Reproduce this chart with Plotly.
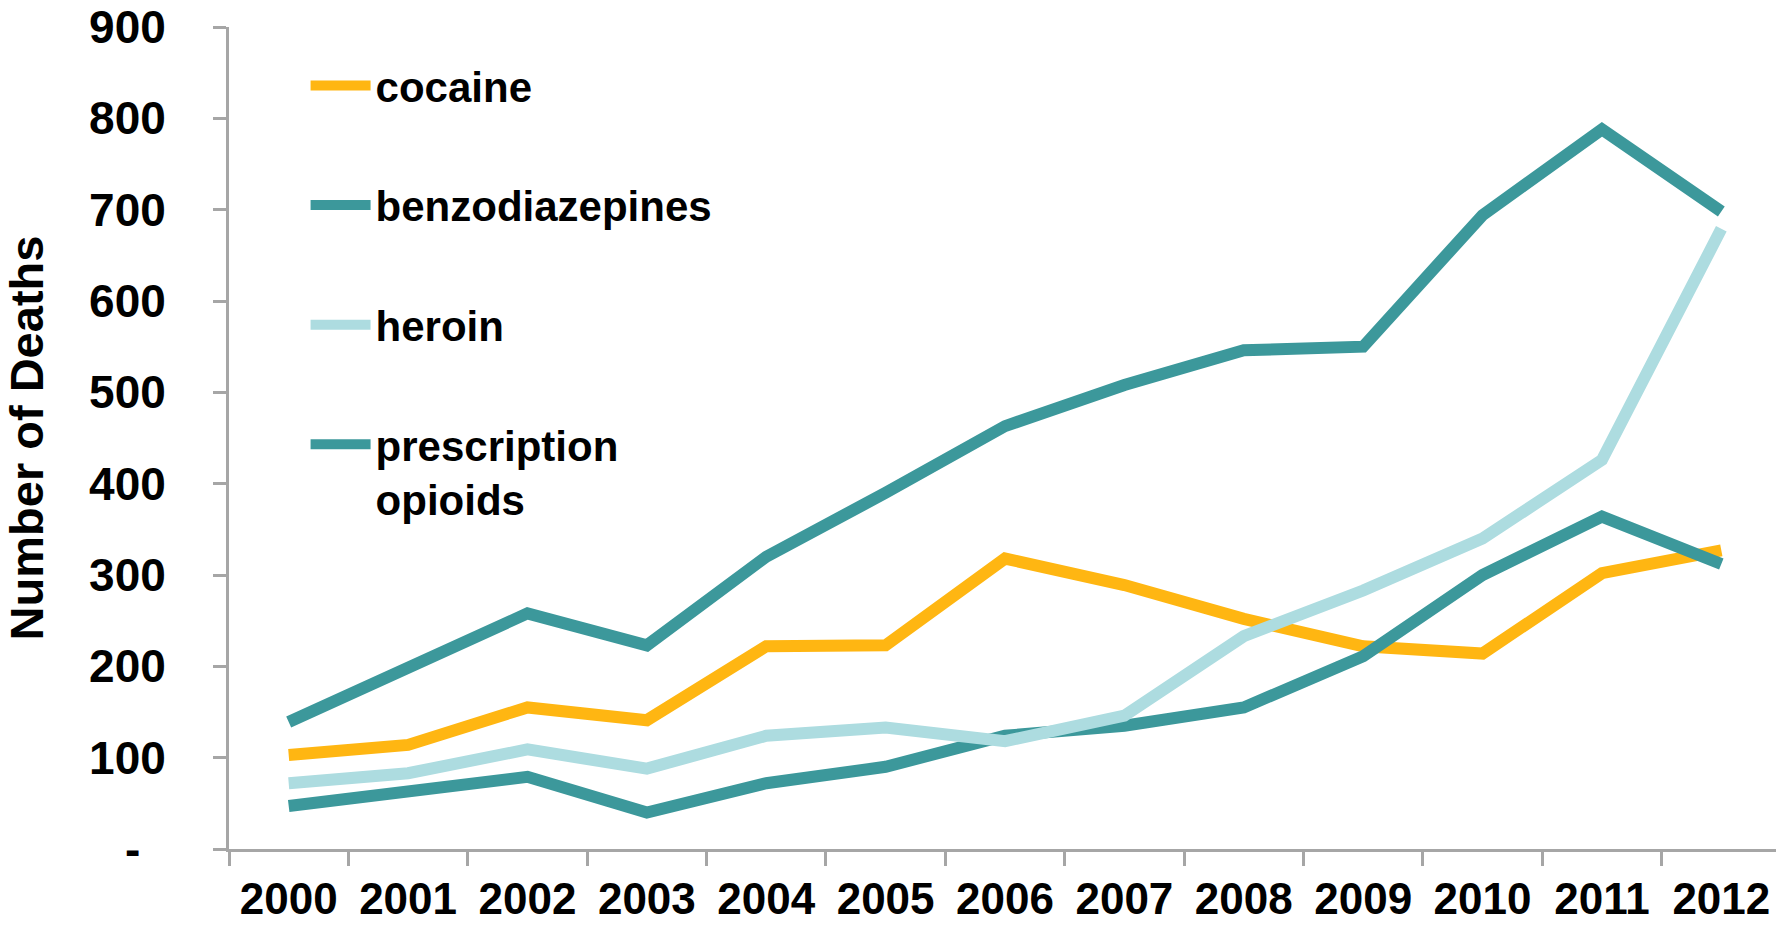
import plotly.graph_objects as go

years = ["2000", "2001", "2002", "2003", "2004", "2005", "2006",
         "2007", "2008", "2009", "2010", "2011", "2012"]

cocaine = [103, 114, 155, 141, 222, 223, 318, 289, 252, 222, 214, 302, 327]
benzodiazepines = [139, 198, 258, 223, 320, 390, 463, 508, 546, 550, 694, 788, 698]
heroin = [72, 83, 109, 88, 124, 133, 118, 146, 233, 283, 340, 426, 679]
prescription_opioids = [47, 63, 79, 40, 72, 90, 124, 135, 155, 211, 300, 364, 312]

y_tickvals = [0, 100, 200, 300, 400, 500, 600, 700, 800, 900]
y_ticktext = ["-\u00a0\u00a0", "100", "200", "300", "400", "500", "600", "700", "800", "900"]

C_COCAINE = "#FFB612"
C_TEAL = "#3C989B"
C_HEROIN = "#ADDCE0"
FONT = "Liberation Sans, Arial, sans-serif"

series = [
    ("cocaine", cocaine, C_COCAINE, 1),
    ("benzodiazepines", benzodiazepines, C_TEAL, 2),
    ("prescription<br>opioids", prescription_opioids, C_TEAL, 4),
    ("heroin", heroin, C_HEROIN, 3),
]

fig = go.Figure()
for name, vals, color, rank in series:
    fig.add_trace(go.Scatter(
        x=years, y=vals, name=name, mode="lines",
        line=dict(color=color, width=12),
        legendrank=rank, legendgroup=name,
    ))

fig.update_layout(
    width=1776, height=929,
    margin=dict(l=229, r=0, t=27, b=80, autoexpand=False),
    paper_bgcolor="white", plot_bgcolor="white",
    font=dict(family=FONT, color="black"),
    showlegend=True,
    legend=dict(
        x=0.0495, y=0.97, xanchor="left", yanchor="top",
        font=dict(size=42, family=FONT, color="black", weight="bold"),
        traceorder="grouped", tracegroupgap=62,
        itemwidth=60, valign="top",
        bgcolor="rgba(0,0,0,0)",
    ),
    xaxis=dict(
        type="category", range=[-0.5, 12.458],
        showgrid=False, zeroline=False,
        showline=True, linecolor="#A6A6A6", linewidth=3,
        ticks="outside", tickson="boundaries", ticklen=14, tickwidth=3,
        tickcolor="#A6A6A6",
        tickfont=dict(size=44, family=FONT, color="black", weight="bold"),
        ticklabelstandoff=9,
    ),
    yaxis=dict(
        range=[0, 900], showgrid=False, zeroline=False,
        showline=True, linecolor="#A6A6A6", linewidth=3,
        ticks="outside", ticklen=13, tickwidth=3, tickcolor="#A6A6A6",
        tickvals=y_tickvals, ticktext=y_ticktext,
        tickfont=dict(size=46, family=FONT, color="black", weight="bold"),
        ticklabelstandoff=38,
        title=dict(text="<b>Number of Deaths</b>",
                   font=dict(size=47, family=FONT, color="black"),
                   standoff=34),
    ),
)

fig.write_html("out.html")
